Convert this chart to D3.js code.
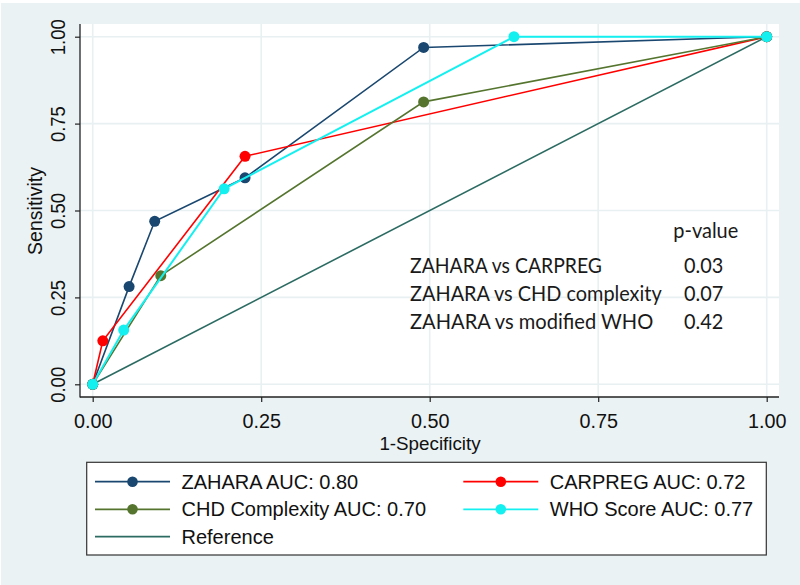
<!DOCTYPE html>
<html>
<head>
<meta charset="utf-8">
<script src="https://cdn.jsdelivr.net/npm/d3@7"></script>
<style>
  body { margin: 0; padding: 0; background: #ffffff; }
  svg { display: block; }
</style>
</head>
<body>
<svg id="chart" width="800" height="585"></svg>
<script>
// ---- data ----
const seriesNames = ["ZAHARA AUC: 0.80", "CARPREG AUC: 0.72", "CHD Complexity AUC: 0.70", "WHO Score AUC: 0.77"];
const zaharaX  = [0, 0.054, 0.092, 0.226, 0.491, 1];
const zaharaY  = [0, 0.281, 0.469, 0.594, 0.969, 1];
const carpregX = [0, 0.015, 0.226, 1];
const carpregY = [0, 0.125, 0.656, 1];
const chdX     = [0, 0.101, 0.491, 1];
const chdY     = [0, 0.3125, 0.8125, 1];
const whoX     = [0, 0.046, 0.195, 0.625, 1];
const whoY     = [0, 0.156, 0.5625, 1, 1];
const referenceX = [0, 1];
const referenceY = [0, 1];
const tickValues = [0, 0.25, 0.5, 0.75, 1];
const tickLabels = ["0.00", "0.25", "0.50", "0.75", "1.00"];
const pvalueHeader = "p-value";
const comparisons = ["ZAHARA vs CARPREG", "ZAHARA vs CHD complexity", "ZAHARA vs modified WHO"];
const pvalues = ["0.03", "0.07", "0.42"];

const colors = ["#1a476f", "#ff0000", "#55752f", "#14f0f0"];
const refColor = "#2b6b62";

const svg = d3.select("#chart");
// backgrounds
svg.append("rect").attr("x", 0).attr("y", 0).attr("width", 800).attr("height", 585).attr("fill", "#ffffff");
svg.append("rect").attr("x", 1).attr("y", 3).attr("width", 799).attr("height", 582).attr("fill", "#eaf2f3");

const plotL = 80, plotR = 779, plotT = 24, plotB = 397;
svg.append("rect").attr("x", plotL).attr("y", plotT).attr("width", plotR - plotL).attr("height", plotB - plotT).attr("fill", "#ffffff");

const x = d3.scaleLinear().domain([0, 1]).range([92.7, 766.7]);
const y = d3.scaleLinear().domain([0, 1]).range([384.3, 36.7]);

// grid
const grid = svg.append("g");
grid.selectAll("line.v").data(tickValues).join("line")
  .attr("x1", d => x(d)).attr("x2", d => x(d)).attr("y1", plotT).attr("y2", plotB)
  .attr("stroke", "#e8f0f2").attr("stroke-width", 1.6);
grid.selectAll("line.h").data(tickValues).join("line")
  .attr("y1", d => y(d)).attr("y2", d => y(d)).attr("x1", plotL).attr("x2", plotR)
  .attr("stroke", "#e8f0f2").attr("stroke-width", 1.6);

// axes
const yAxis = d3.axisLeft(y).tickValues(tickValues).tickFormat((d, i) => tickLabels[i]).tickSize(5);
const gy = svg.append("g").attr("transform", `translate(${plotL},0)`).call(yAxis);
gy.select(".domain").remove();
gy.selectAll(".tick line").attr("stroke", "#222").attr("stroke-width", 1.2);
gy.selectAll(".tick text")
  .attr("x", null).attr("dy", null).attr("y", null)
  .attr("transform", "translate(-15,0) rotate(-90)")
  .attr("text-anchor", "middle")
  .attr("font-family", "Liberation Sans, Arial, sans-serif")
  .attr("font-size", 21).attr("fill", "#111")
  .attr("textLength", 36).attr("lengthAdjust", "spacingAndGlyphs");

const xAxis = d3.axisBottom(x).tickValues(tickValues).tickFormat((d, i) => tickLabels[i]).tickSize(5);
const gx = svg.append("g").attr("transform", `translate(0,${plotB})`).call(xAxis);
gx.select(".domain").remove();
gx.selectAll(".tick line").attr("stroke", "#222").attr("stroke-width", 1.2);
gx.selectAll(".tick text")
  .attr("y", 30.6).attr("dy", null)
  .attr("text-anchor", "middle")
  .attr("font-family", "Liberation Sans, Arial, sans-serif")
  .attr("font-size", 20.5).attr("fill", "#111")
  .attr("textLength", 38.5).attr("lengthAdjust", "spacingAndGlyphs");

svg.append("line").attr("x1", plotL).attr("x2", plotL).attr("y1", plotT).attr("y2", plotB + 0.6)
  .attr("stroke", "#222").attr("stroke-width", 1.3);
svg.append("line").attr("x1", plotL).attr("x2", plotR).attr("y1", plotB).attr("y2", plotB)
  .attr("stroke", "#222").attr("stroke-width", 1.3);

// axis titles
svg.append("text").text("1-Specificity")
  .attr("x", 430).attr("y", 449.5).attr("text-anchor", "middle")
  .attr("font-family", "Liberation Sans, Arial, sans-serif").attr("font-size", 18.8).attr("fill", "#111");
svg.append("text").text("Sensitivity")
  .attr("transform", "translate(42,211) rotate(-90)").attr("text-anchor", "middle")
  .attr("font-family", "Liberation Sans, Arial, sans-serif").attr("font-size", 19.5).attr("fill", "#111");

// lines
const line = d3.line().x(d => x(d[0])).y(d => y(d[1]));
const refPts = referenceX.map((v, i) => [v, referenceY[i]]);
svg.append("path").datum(refPts).attr("d", line).attr("fill", "none").attr("stroke", refColor).attr("stroke-width", 1.6);

const series = [
  zaharaX.map((v, i) => [v, zaharaY[i]]),
  carpregX.map((v, i) => [v, carpregY[i]]),
  chdX.map((v, i) => [v, chdY[i]]),
  whoX.map((v, i) => [v, whoY[i]])
];
const widths = [1.6, 1.6, 1.6, 2];
series.forEach((pts, k) => {
  const g = svg.append("g");
  g.append("path").datum(pts).attr("d", line).attr("fill", "none")
    .attr("stroke", colors[k]).attr("stroke-width", widths[k]);
  g.selectAll("circle").data(pts).join("circle")
    .attr("cx", d => x(d[0])).attr("cy", d => y(d[1])).attr("r", 5.5)
    .attr("fill", colors[k]);
});

// annotation
const ann = svg.append("g").attr("font-family", "Lato, 'Open Sans', sans-serif").attr("fill", "#1a1a1a").attr("font-size", 20.5);
ann.append("text").text(pvalueHeader).attr("x", 673.3).attr("y", 238.3).attr("textLength", 65).attr("lengthAdjust", "spacingAndGlyphs");
const annY = [273.3, 301.2, 328.5];
const compLen = [192, 251.7, 243.3];
comparisons.forEach((c, i) => {
  ann.append("text").text(c).attr("x", 410).attr("y", annY[i]).attr("textLength", compLen[i]).attr("lengthAdjust", "spacingAndGlyphs");
  ann.append("text").text(pvalues[i]).attr("x", 684).attr("y", annY[i]).attr("textLength", 39.3).attr("lengthAdjust", "spacingAndGlyphs");
});

// legend
const leg = svg.append("g");
leg.append("rect").attr("x", 86.7).attr("y", 462.3).attr("width", 679.6).attr("height", 92.7)
  .attr("fill", "#ffffff").attr("stroke", "#333").attr("stroke-width", 1.2);
const legItems = [
  {name: seriesNames[0], color: colors[0], marker: true, col: 0, row: 0},
  {name: seriesNames[1], color: colors[1], marker: true, col: 1, row: 0},
  {name: seriesNames[2], color: colors[2], marker: true, col: 0, row: 1},
  {name: seriesNames[3], color: colors[3], marker: true, col: 1, row: 1},
  {name: "Reference", color: refColor, marker: false, col: 0, row: 2}
];
const colX = [95, 463.3];
const rowY = [481.7, 509.3, 536.7];
legItems.forEach(it => {
  const x0 = colX[it.col], yy = rowY[it.row];
  leg.append("line").attr("x1", x0).attr("x2", x0 + 75).attr("y1", yy).attr("y2", yy)
    .attr("stroke", it.color).attr("stroke-width", 1.8);
  if (it.marker) {
    leg.append("circle").attr("cx", x0 + 37.5).attr("cy", yy).attr("r", 5.3).attr("fill", it.color);
  }
  leg.append("text").text(it.name).attr("x", x0 + 86.5).attr("y", yy + 7)
    .attr("font-family", "Liberation Sans, Arial, sans-serif").attr("font-size", 20).attr("fill", "#111");
});
</script>
</body>
</html>
